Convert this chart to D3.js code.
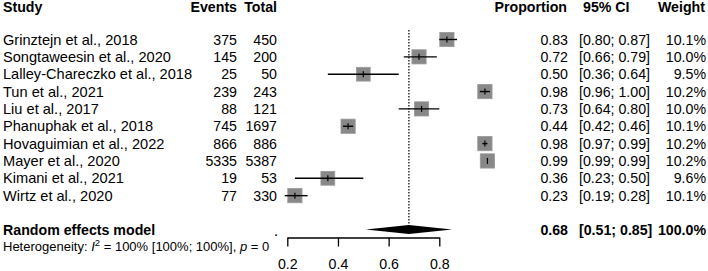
<!DOCTYPE html>
<html><head><meta charset="utf-8">
<script src="https://cdn.jsdelivr.net/npm/d3@7"></script>
<style>
html,body{margin:0;padding:0;background:#fff;}
svg{display:block;font-family:"Liberation Sans",Arial,sans-serif;}
</style></head>
<body>
<svg id="chart" width="708" height="271"></svg>
<script>
const studies = ["Grinztejn et al., 2018","Songtaweesin et al., 2020","Lalley-Chareczko et al., 2018","Tun et al., 2021","Liu et al., 2017","Phanuphak et al., 2018","Hovaguimian et al., 2022","Mayer et al., 2020","Kimani et al., 2021","Wirtz et al., 2020"];
const events = [375,145,25,239,88,745,866,5335,19,77];
const totals = [450,200,50,243,121,1697,886,5387,53,330];
const proportions = [0.83,0.72,0.50,0.98,0.73,0.44,0.98,0.99,0.36,0.23];
const lowers = [0.80,0.66,0.36,0.96,0.64,0.42,0.97,0.99,0.23,0.19];
const uppers = [0.87,0.79,0.64,1.00,0.80,0.46,0.99,0.99,0.50,0.28];
const weights = [10.1,10.0,9.5,10.2,10.0,10.1,10.2,10.2,9.6,10.1];
const pooled = {est:0.68, lo:0.51, hi:0.85, weight:100.0};
const axisTicks = [0.2,0.4,0.6,0.8];

const svg = d3.select("#chart");
const x = d3.scaleLinear().domain([0.2,0.8]).range([287.3,439.3]);
const y = d3.scaleLinear().domain([0,1]).range([39.5,56.85]);
const sz = d3.scaleSqrt().domain([0,10.2]).range([0,14.3]);
const FS_NAME = 14.6, FS_NUM = 14.2;

// headers
const hdr = svg.append("g").attr("font-weight","bold").attr("font-size",14.2).attr("fill","#000");
hdr.append("text").attr("x",3).attr("y",12).text("Study");
hdr.append("text").attr("x",237).attr("y",12).attr("text-anchor","end").text("Events");
hdr.append("text").attr("x",277).attr("y",12).attr("text-anchor","end").text("Total");
hdr.append("text").attr("x",567).attr("y",12).attr("text-anchor","end").text("Proportion");
hdr.append("text").attr("x",583).attr("y",12).text("95% CI");
hdr.append("text").attr("x",705).attr("y",12).attr("text-anchor","end").text("Weight");

// rows text
const rows = svg.append("g").attr("font-size",FS_NUM).attr("fill","#000");
studies.forEach((s,i)=>{
  const yy = y(i)+5;
  rows.append("text").attr("x",3).attr("y",yy).attr("font-size",FS_NAME).text(s);
  rows.append("text").attr("x",237).attr("y",yy).attr("text-anchor","end").text(events[i]);
  rows.append("text").attr("x",277).attr("y",yy).attr("text-anchor","end").text(totals[i]);
  rows.append("text").attr("x",568).attr("y",yy).attr("text-anchor","end").text(proportions[i].toFixed(2));
  rows.append("text").attr("x",579).attr("y",yy).text("["+lowers[i].toFixed(2)+"; "+uppers[i].toFixed(2)+"]");
  rows.append("text").attr("x",706).attr("y",yy).attr("text-anchor","end").text(weights[i].toFixed(1)+"%");
});

// pooled row
const yP = 229.5;
const pr = svg.append("g").attr("font-size",14.2).attr("font-weight","bold");
pr.append("text").attr("x",3).attr("y",yP+5).text("Random effects model");
pr.append("text").attr("x",568).attr("y",yP+5).attr("text-anchor","end").text(pooled.est.toFixed(2));
pr.append("text").attr("x",579).attr("y",yP+5).text("["+pooled.lo.toFixed(2)+"; "+pooled.hi.toFixed(2)+"]");
pr.append("text").attr("x",706).attr("y",yP+5).attr("text-anchor","end").text(pooled.weight.toFixed(1)+"%");

const het = svg.append("text").attr("x",3).attr("y",251).attr("font-size",13);
het.append("tspan").text("Heterogeneity: ");
het.append("tspan").attr("font-style","italic").text("I");
het.append("tspan").attr("dy",-5).attr("font-size",9.5).text("2");
het.append("tspan").attr("dy",5).text(" = 100% [100%; 100%], ");
het.append("tspan").attr("font-style","italic").text("p");
het.append("tspan").text(" = 0");
svg.append("text").attr("x",274.5).attr("y",235.5).attr("font-size",11).attr("font-weight","bold").text(".");

// reference dotted line
svg.append("line").attr("x1",x(pooled.est)).attr("x2",x(pooled.est))
  .attr("y1",30).attr("y2",yP-4).attr("stroke","#000").attr("stroke-width",1.2)
  .attr("stroke-dasharray","1.5,1.5");

// squares and CIs
const g = svg.append("g");
studies.forEach((s,i)=>{
  const cy = y(i), cx = x(proportions[i]), w = sz(weights[i]);
  g.append("rect").attr("x",cx-w/2).attr("y",cy-w/2).attr("width",w).attr("height",w)
    .attr("fill","#888").attr("stroke","#9a9a9a").attr("stroke-width",0.8);
  g.append("line").attr("x1",x(lowers[i])).attr("x2",x(uppers[i])).attr("y1",cy).attr("y2",cy)
    .attr("stroke","#000").attr("stroke-width",1.4);
  g.append("line").attr("x1",cx).attr("x2",cx).attr("y1",cy-3).attr("y2",cy+3)
    .attr("stroke","#000").attr("stroke-width",1.2);
});

// diamond
const dh = 4.5;
svg.append("path").attr("d",
  `M${x(pooled.lo)},${yP} L${x(pooled.est)},${yP-dh} L${x(pooled.hi)},${yP} L${x(pooled.est)},${yP+dh} Z`)
  .attr("fill","#000");

// axis
const axG = svg.append("g").attr("transform","translate(0,237.5)")
  .call(d3.axisBottom(x).tickValues(axisTicks).tickSize(9).tickSizeOuter(0).tickFormat(d3.format(".1f")));
axG.attr("font-size",null).attr("font-family",null);
axG.select(".domain").attr("stroke","#000").attr("stroke-width",1.3);
axG.selectAll(".tick line").attr("stroke","#000").attr("stroke-width",1.3);
axG.selectAll(".tick text").attr("font-size",14.2)
  .attr("fill","#000").attr("dy",0).attr("y",31);
</script>
</body></html>
